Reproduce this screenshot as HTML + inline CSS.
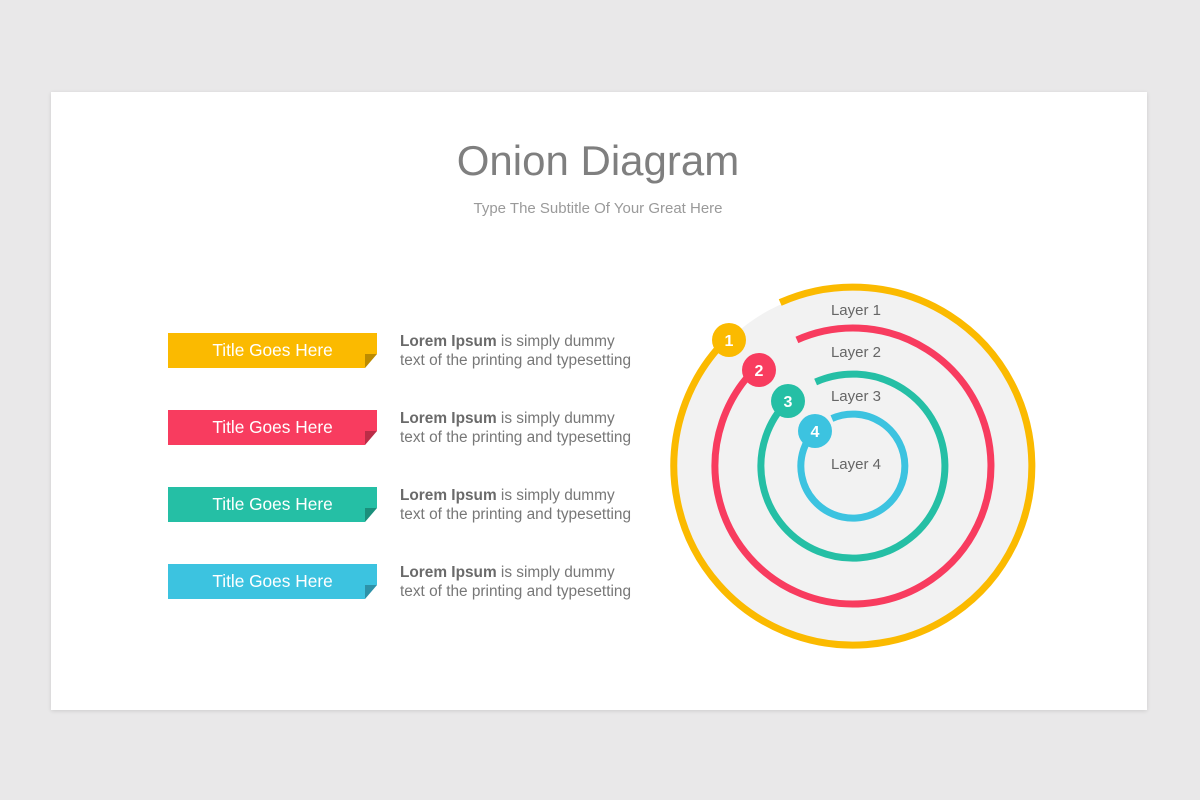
<!DOCTYPE html>
<html><head><meta charset="utf-8"><style>
body{margin:0;width:1200px;height:800px;background:#e9e8e9;font-family:"Liberation Sans",sans-serif;position:relative;overflow:hidden}
.card{position:absolute;left:51px;top:92px;width:1096px;height:618px;background:#fff;box-shadow:0 1px 4px rgba(0,0,0,.12)}
h1{position:absolute;left:0;width:1196px;top:137px;margin:0;text-align:center;font-weight:normal;font-size:42px;color:#7f7f7f}
.sub{position:absolute;left:0;width:1196px;top:200px;text-align:center;font-size:15px;color:#9a9a9a}
.bar{position:absolute;left:168px;width:209px;height:35px;color:#fff;font-size:17.3px;line-height:35px;text-align:center;clip-path:polygon(0 0,100% 0,100% 60%,calc(100% - 12px) 100%,0 100%)}
.fold{position:absolute;left:365px;width:12px;height:14px;background:rgba(0,0,0,.25);clip-path:polygon(100% 0,0 100%,0 0)}
.txt{position:absolute;left:400px;font-size:15.4px;line-height:19px;color:#777}
.txt b{color:#6a6a6a}
</style></head><body>
<div class="card"></div>
<h1>Onion Diagram</h1>
<div class="sub">Type The Subtitle Of Your Great Here</div>

<div class="bar" style="top:333px;background:#fbba00">Title Goes Here</div>
<div class="bar" style="top:410px;background:#f83c5f">Title Goes Here</div>
<div class="bar" style="top:487px;background:#25bfa5">Title Goes Here</div>
<div class="bar" style="top:564px;background:#3cc3e0">Title Goes Here</div>

<div class="txt" style="top:332px"><b>Lorem Ipsum</b> is simply dummy<br>text of the printing and typesetting</div>
<div class="txt" style="top:409px"><b>Lorem Ipsum</b> is simply dummy<br>text of the printing and typesetting</div>
<div class="txt" style="top:486px"><b>Lorem Ipsum</b> is simply dummy<br>text of the printing and typesetting</div>
<div class="txt" style="top:563px"><b>Lorem Ipsum</b> is simply dummy<br>text of the printing and typesetting</div>

<svg width="1200" height="800" style="position:absolute;left:0;top:0">
<circle cx="853" cy="466" r="177" fill="#f2f2f2"/>
<g fill="none" stroke-width="7">
<path d="M780.2 302.5 A179 179 0 1 1 726.4 339.4" stroke="#fbba00"/>
<path d="M796.9 339.9 A138 138 0 1 1 755.4 368.4" stroke="#f83c5f"/>
<path d="M815.6 382 A92 92 0 1 1 788 400.9" stroke="#25bfa5"/>
<path d="M831.9 418.5 A52 52 0 1 1 816.2 429.2" stroke="#3cc3e0"/>
</g>
<g font-family="Liberation Sans" font-weight="bold" font-size="16" fill="#fff" text-anchor="middle">
<circle cx="729" cy="340" r="17" fill="#fbba00"/><text x="729" y="346">1</text>
<circle cx="759" cy="370" r="17" fill="#f83c5f"/><text x="759" y="376">2</text>
<circle cx="788" cy="401" r="17" fill="#25bfa5"/><text x="788" y="407">3</text>
<circle cx="815" cy="431" r="17" fill="#3cc3e0"/><text x="815" y="437">4</text>
</g>
<g font-family="Liberation Sans" font-size="15" fill="#666" text-anchor="middle">
<text x="856" y="315">Layer 1</text>
<text x="856" y="357">Layer 2</text>
<text x="856" y="401">Layer 3</text>
<text x="856" y="469">Layer 4</text>
</g>
</svg>
<div class="fold" style="top:354px"></div>
<div class="fold" style="top:431px"></div>
<div class="fold" style="top:508px"></div>
<div class="fold" style="top:585px"></div>
</body></html>
